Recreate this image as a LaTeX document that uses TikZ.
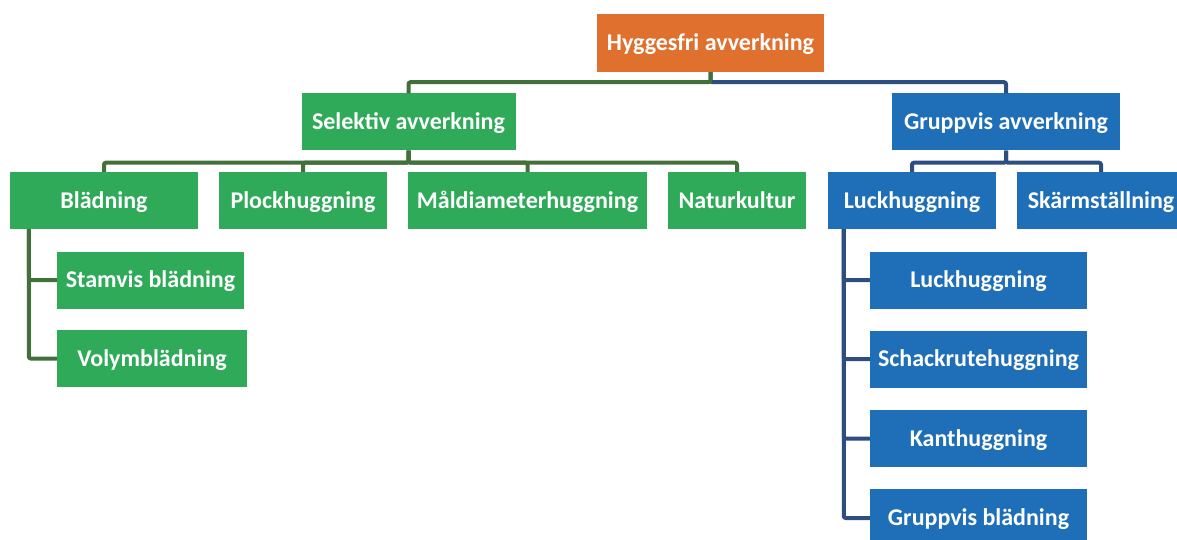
\documentclass[tikz,border=0pt]{standalone}
\usepackage{fontspec}
\setmainfont{Carlito}
\usetikzlibrary{calc}
\definecolor{orangebox}{RGB}{223,112,45}
\definecolor{greenbox}{RGB}{46,170,88}
\definecolor{bluebox}{RGB}{31,111,184}
\definecolor{greenline}{RGB}{66,112,58}
\definecolor{blueline}{RGB}{44,78,128}
\tikzset{
  box/.style={rectangle, inner sep=0pt, text=white, font=\fontsize{24}{26}\selectfont\bfseries, minimum height=57pt, text height=18pt, text depth=3pt},
  obox/.style={box, fill=orangebox},
  gbox/.style={box, fill=greenbox},
  bbox/.style={box, fill=bluebox},
  gline/.style={draw=greenline, line width=4pt, rounded corners=2pt},
  bline/.style={draw=blueline, line width=4pt, rounded corners=2pt},
}
\begin{document}
\begin{tikzpicture}[x=1pt,y=-1pt]
\clip (0,0) rectangle (1177,540);
\fill[white] (0,0) rectangle (1177,540);
% level 0
\node[obox, minimum width=227pt, minimum height=58pt] (root) at (710.5,43) {Hyggesfri avverkning};
% level 1
\node[gbox, minimum width=214pt] (sel) at (408.5,122) {Selektiv avverkning};
\node[bbox, minimum width=228pt] (grp) at (1006,122) {Gruppvis avverkning};
% level 2 green
\node[gbox, minimum width=188pt] (bl) at (104,200.5) {Blädning};
\node[gbox, minimum width=168pt] (plo) at (303,200.5) {Plockhuggning};
\node[gbox, minimum width=239pt] (mal) at (527.5,200.5) {Måldiameterhuggning};
\node[gbox, minimum width=138pt] (nat) at (737,200.5) {Naturkultur};
% level 2 blue
\node[bbox, minimum width=168pt] (luck) at (912,200.5) {Luckhuggning};
\node[bbox, minimum width=168pt] (skar) at (1101,200.5) {Skärmställning};
% level 3 green
\node[gbox, minimum width=187pt] (stam) at (150.5,280) {Stamvis blädning};
\node[gbox, minimum width=190pt] (vol) at (152,358.5) {Volymblädning};
% level 3 blue
\node[bbox, minimum width=217pt] (l1) at (978.5,280) {Luckhuggning};
\node[bbox, minimum width=217pt] (l2) at (978.5,359) {Schackrutehuggning};
\node[bbox, minimum width=217pt] (l3) at (978.5,438.5) {Kanthuggning};
\node[bbox, minimum width=217pt, minimum height=58pt] (l4) at (978.5,518) {Gruppvis blädning};
% connectors root
\draw[bline] (root.south) -- ++(0,10) -| (grp.north);
\draw[gline] (root.south) -- ++(0,10) -| (sel.north);
% selektiv children
\draw[gline] (sel.south) -- ++(0,12) -| (bl.north);
\draw[gline] (sel.south) -- ++(0,12) -| (plo.north);
\draw[gline] (sel.south) -- ++(0,12) -| (mal.north);
\draw[gline] (sel.south) -- ++(0,12) -| (nat.north);
% gruppvis children
\draw[bline] (grp.south) -- ++(0,12) -| (luck.north);
\draw[bline] (grp.south) -- ++(0,12) -| (skar.north);
% bladning children
\draw[gline] ($(bl.south west)+(19,0)$) |- (stam.west);
\draw[gline] ($(bl.south west)+(19,0)$) |- (vol.west);
% luckhuggning children
\draw[bline] ($(luck.south west)+(16,0)$) |- (l1.west);
\draw[bline] ($(luck.south west)+(16,0)$) |- (l2.west);
\draw[bline] ($(luck.south west)+(16,0)$) |- (l3.west);
\draw[bline] ($(luck.south west)+(16,0)$) |- (l4.west);
\end{tikzpicture}
\end{document}
